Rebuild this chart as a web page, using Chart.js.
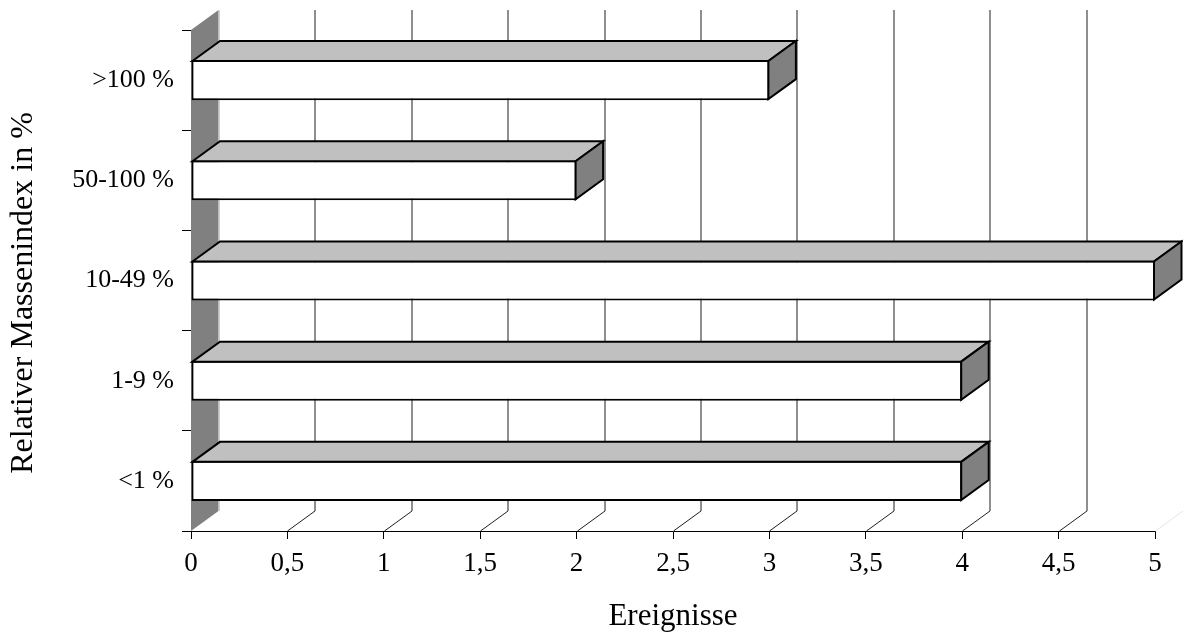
<!DOCTYPE html>
<html lang="de">
<head>
<meta charset="utf-8">
<title>Ereignisse nach relativem Massenindex</title>
<script src="https://cdn.jsdelivr.net/npm/chart.js@4/dist/chart.umd.min.js"></script>
<style>
  html, body { margin: 0; padding: 0; background: #ffffff; }
  #wrap { width: 1183px; height: 638px; position: relative; }
</style>
</head>
<body>
<div id="wrap"><canvas id="chart"></canvas></div>
<script>
// Categories listed top to bottom, with the number of events for each.
const categories = ['>100 %', '50-100 %', '10-49 %', '1-9 %', '<1 %'];
const events = [3, 2, 5, 4, 4];

// Value axis range and spacing of its ticks.
const xMin = 0;
const xMax = 5;
const xStep = 0.5;

const xTitle = 'Ereignisse';
const yTitle = 'Relativer Massenindex in %';

const SERIF = "'Liberation Serif', 'Times New Roman', serif";

// Pseudo-3D look: depth offset of the back plane and face colours.
const depth = { dx: 27.5, dy: -20 };
const look = {
  wall: '#808080',
  wallEdge: '#d0d0d0',
  grid: '#1e1e1e',
  topFace: '#c0c0c0',
  sideFace: '#808080',
  outline: '#000000'
};

// Side wall, back-wall grid lines and floor lines, drawn behind the bars.
const backdrop = {
  id: 'backdrop',
  beforeDatasetsDraw(chart) {
    const { ctx, chartArea: a, scales: { x } } = chart;
    const { dx, dy } = depth;
    ctx.save();

    // grid lines on the back wall and the floor
    ctx.lineWidth = 1;
    x.ticks.forEach((t) => {
      const px = Math.round(x.getPixelForValue(t.value)) + 0.5;
      if (t.value === xMin) return;
      const last = t.value === xMax;
      ctx.strokeStyle = last ? '#e4e4e4' : look.grid;
      ctx.beginPath();
      ctx.moveTo(px, a.bottom);
      ctx.lineTo(px + dx, a.bottom + dy);
      if (!last) ctx.lineTo(px + dx, a.top + dy);
      ctx.stroke();
    });

    // left side wall
    ctx.fillStyle = look.wall;
    ctx.beginPath();
    ctx.moveTo(a.left, a.bottom);
    ctx.lineTo(a.left + dx, a.bottom + dy);
    ctx.lineTo(a.left + dx, a.top + dy);
    ctx.lineTo(a.left, a.top);
    ctx.closePath();
    ctx.fill();

    ctx.strokeStyle = look.wallEdge;
    ctx.beginPath();
    ctx.moveTo(Math.round(a.left + dx) + 0.5, a.top + dy);
    ctx.lineTo(Math.round(a.left + dx) + 0.5, a.bottom + dy);
    ctx.stroke();

    ctx.restore();
  }
};

// Top and end faces of every bar, built on the bar elements' geometry.
const barFaces = {
  id: 'barFaces',
  afterDatasetsDraw(chart) {
    const { ctx } = chart;
    const { dx, dy } = depth;
    const meta = chart.getDatasetMeta(0);
    ctx.save();
    ctx.lineWidth = 2;
    ctx.lineJoin = 'miter';
    ctx.strokeStyle = look.outline;
    meta.data.forEach((bar) => {
      const p = bar.getProps(['x', 'y', 'base', 'height'], true);
      const xl = p.base + 1;
      const xr = p.x - 1;
      const yt = p.y - p.height / 2 + 1;
      const yb = p.y + p.height / 2 - 1;

      ctx.fillStyle = look.topFace;
      ctx.beginPath();
      ctx.moveTo(xl, yt);
      ctx.lineTo(xl + dx, yt + dy);
      ctx.lineTo(xr + dx, yt + dy);
      ctx.lineTo(xr, yt);
      ctx.closePath();
      ctx.fill();
      ctx.stroke();

      ctx.fillStyle = look.sideFace;
      ctx.beginPath();
      ctx.moveTo(xr, yt);
      ctx.lineTo(xr + dx, yt + dy);
      ctx.lineTo(xr + dx, yb + dy);
      ctx.lineTo(xr, yb);
      ctx.closePath();
      ctx.fill();
      ctx.stroke();
    });
    ctx.restore();
  }
};

// Vertical title of the category axis.
const categoryTitle = {
  id: 'categoryTitle',
  afterDraw(chart) {
    const { ctx } = chart;
    ctx.save();
    ctx.translate(24, 293);
    ctx.rotate(-Math.PI / 2);
    ctx.font = '32px ' + SERIF;
    ctx.fillStyle = '#000000';
    ctx.textAlign = 'center';
    ctx.textBaseline = 'middle';
    ctx.fillText(yTitle, 0, 0);
    ctx.restore();
  }
};

new Chart(document.getElementById('chart'), {
  type: 'bar',
  data: {
    labels: categories,
    datasets: [{
      label: xTitle,
      data: events,
      backgroundColor: '#ffffff',
      borderColor: '#000000',
      borderWidth: 2,
      borderSkipped: false,
      barPercentage: 0.4,
      categoryPercentage: 1.0
    }]
  },
  options: {
    indexAxis: 'y',
    responsive: true,
    maintainAspectRatio: false,
    animation: false,
    layout: { padding: { left: 0, top: 30, right: 28, bottom: 0 } },
    plugins: {
      legend: { display: false },
      tooltip: { enabled: false }
    },
    scales: {
      x: {
        type: 'linear',
        min: xMin,
        max: xMax,
        afterFit(scale) { scale.height = 107; },
        ticks: {
          stepSize: xStep,
          padding: 9,
          color: '#000000',
          font: { family: SERIF, size: 27 },
          callback: (v) => String(v).replace('.', ',')
        },
        grid: {
          drawOnChartArea: false,
          drawTicks: true,
          tickLength: 8,
          color: '#000000',
          lineWidth: 1
        },
        border: { display: true, color: '#000000', width: 1 },
        title: {
          display: true,
          text: xTitle,
          color: '#000000',
          font: { family: SERIF, size: 31 },
          padding: { top: 0, bottom: 3 }
        }
      },
      y: {
        afterFit(scale) { scale.width = 191; },
        ticks: {
          padding: 8,
          color: '#000000',
          font: { family: SERIF, size: 26 }
        },
        grid: {
          offset: true,
          drawOnChartArea: false,
          drawTicks: true,
          tickLength: 9,
          color: '#000000',
          lineWidth: 1
        },
        border: { display: false }
      }
    }
  },
  plugins: [backdrop, barFaces, categoryTitle]
});
</script>
</body>
</html>
